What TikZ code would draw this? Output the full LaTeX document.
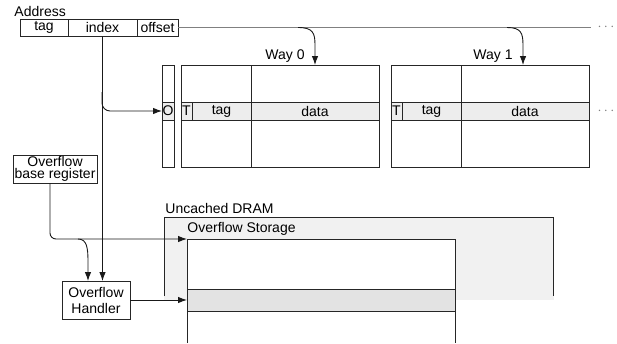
\documentclass[tikz,border=0pt]{standalone}
\usepackage{fontspec}
\setmainfont{Liberation Sans}
\usetikzlibrary{arrows.meta}
\definecolor{rowgray}{gray}{0.93}
\definecolor{dramgray}{gray}{0.945}
\definecolor{storgray}{gray}{0.89}
\definecolor{linegray}{gray}{0.15}
\definecolor{offgray}{gray}{0.5}
\begin{document}
\begin{tikzpicture}[x=1pt,y=-1pt,
  font=\fontsize{14}{15}\selectfont,
  line width=0.9pt,
  draw=linegray,
  cell/.style={draw=linegray, inner sep=0pt, outer sep=0pt},
  graycell/.style={cell, fill=rowgray},
  lbl/.style={inner sep=0pt, anchor=base west},
  arr/.style={-{Latex[length=9pt,width=6.5pt]}, draw=black!90},
  dots/.style={text=offgray, inner sep=0pt}
]
\useasboundingbox (0,0) rectangle (617,343);

% ---- Address ----
\node[lbl] (addrlbl) at (14,16) {Address};
\node[cell, minimum width=48, minimum height=17] (atag) at (44,27.5) {tag};
\node[cell, minimum width=69, minimum height=17] (aidx) at (102.5,27.5) {index};
\node[cell, minimum width=41, minimum height=17] (aoff) at (157.5,27.5) {offset};
\coordinate (lineend) at (591,27.5);
\draw[offgray, line width=1.1pt] (aoff.east) -- (lineend);
\node[dots] (dotsA) at (606,27.5) {$\cdots$};

% ---- O column ----
\node[cell, minimum width=12, minimum height=102] (ocol) at (168,116) {};
\node[graycell, minimum width=12, minimum height=18] (ocell) at (168,111) {O};

% ---- Way 0 ----
\node[cell, minimum width=198, minimum height=102] (way0) at (280,116) {};
\node[graycell, minimum width=11, minimum height=18] (t0) at (186.5,111) {T};
\node[graycell, minimum width=59, minimum height=18] (tag0) at (221.5,111) {tag};
\node[graycell, minimum width=128, minimum height=18] (data0) at (315,111) {data};
\draw (tag0.north east |- way0.north) -- (tag0.north east);
\draw (tag0.south east) -- (tag0.south east |- way0.south);
\node[inner sep=0pt, anchor=base] (w0lbl) at (285,59) {Way 0};

% ---- Way 1 ----
\node[cell, minimum width=198, minimum height=102] (way1) at (490,116) {};
\node[graycell, minimum width=11, minimum height=18] (t1) at (396.5,111) {T};
\node[graycell, minimum width=59, minimum height=18] (tag1) at (431.5,111) {tag};
\node[graycell, minimum width=128, minimum height=18] (data1) at (525,111) {data};
\draw (tag1.north east |- way1.north) -- (tag1.north east);
\draw (tag1.south east) -- (tag1.south east |- way1.south);
\node[inner sep=0pt, anchor=base] (w1lbl) at (493,59) {Way 1};
\node[dots] (dotsB) at (606,111) {$\cdots$};

% ---- way selection arrows ----
\coordinate (w0src) at (298,27.5);
\coordinate (w0dst) at (315,65);
\coordinate (w1src) at (507,27.5);
\coordinate (w1dst) at (523,65);
\draw[arr] (w0src) .. controls (313,27.5) and (315,33) .. (315,45) -- (w0dst);
\draw[arr] (w1src) .. controls (521,27.5) and (523,33) .. (523,45) -- (w1dst);

% ---- Uncached DRAM ----
\fill[dramgray] (164,217) rectangle (554,300);
\coordinate (dramBL) at (164,296);
\coordinate (dramTL) at (164,217);
\coordinate (dramTR) at (553,217);
\coordinate (dramBR) at (553,296);
\draw (dramBL) -- (dramTL) -- (dramTR) -- (dramBR);
\node[lbl] (dramlbl) at (165,213) {Uncached DRAM};

% ---- Overflow Storage ----
\fill[white] (187,239) rectangle (455,343);
\coordinate (stor) at (187,239);
\coordinate (storTR) at (455,239);
\draw (187,343) -- (stor) -- (storTR) -- (455,343);
\node[cell, fill=storgray, minimum width=268, minimum height=22] (storrow) at (321,300) {};
\node[lbl] (storlbl) at (187,232) {Overflow Storage};

% ---- Overflow base register & handler ----
\node[cell, align=center, minimum width=84, minimum height=28,
      font=\fontsize{14}{12.5}\selectfont] (basereg) at (55,169) {Overflow\\base register};
\node[cell, align=center, minimum width=68, minimum height=38,
      font=\fontsize{14}{16}\selectfont] (handler) at (96,300) {Overflow\\Handler};

% ---- connectors ----
\coordinate (idxturn) at (102,92);
\draw[arr, rounded corners=8] (idxturn) |- (ocell.west);
\draw[arr] (aidx.south) -- (handler.north -| aidx.south);
\draw[arr, rounded corners=6] ([xshift=-5pt]basereg.south) |- (stor);
\coordinate (brsrc) at (78,239);
\draw[arr] (brsrc) .. controls (87,239) and (88,248) .. (88,262) -- ([xshift=-8pt]handler.north);
\draw[arr] (handler.east) -- (storrow.west);
\end{tikzpicture}
\end{document}
